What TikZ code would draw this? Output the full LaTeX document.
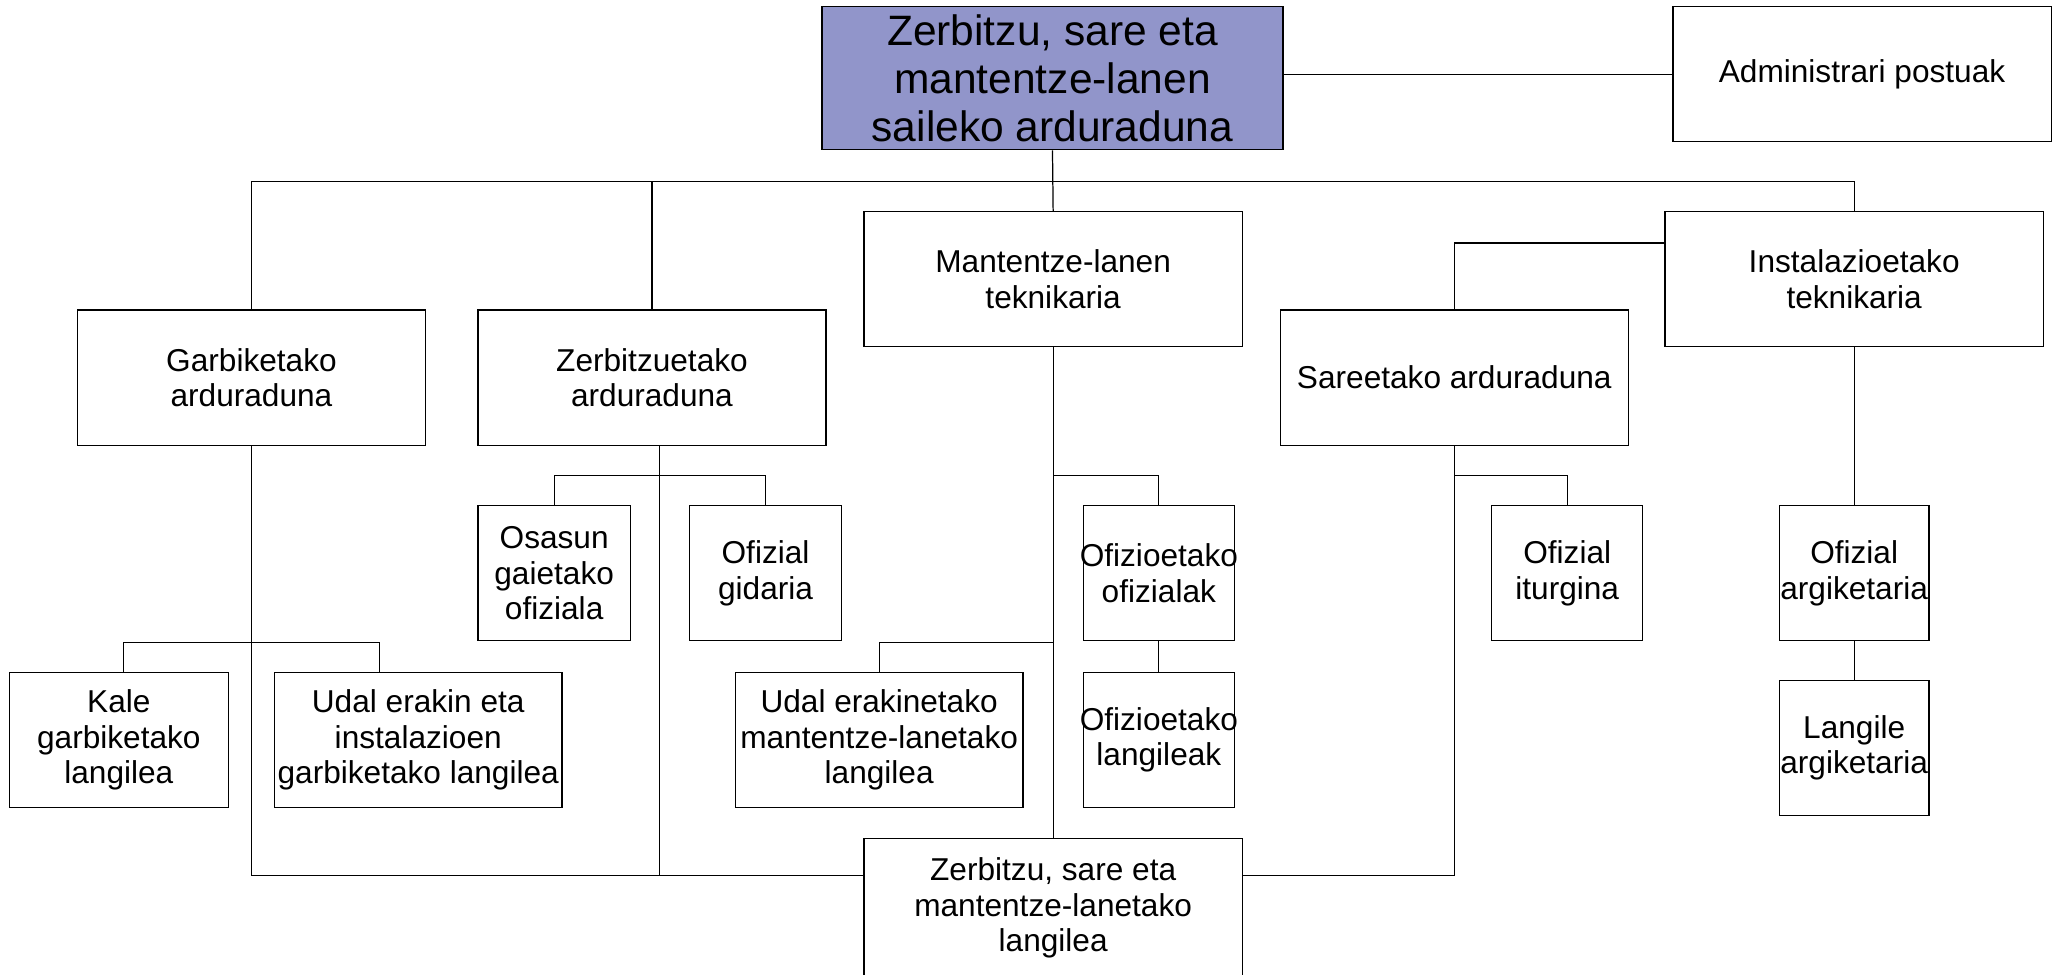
\documentclass[tikz,border=0pt]{standalone}
\usepackage{fontspec}
\setmainfont{Liberation Sans}
\definecolor{headblue}{RGB}{145,149,202}
\tikzset{
	postbox/.style={draw,inner sep=0pt,align=center,minimum width=#1,minimum height=103*0.013131cm,
		font=\fontsize{9}{10.1}\selectfont},
	postbox/.default=265*0.013131cm
}
\begin{document}
\begin{tikzpicture}[x=0.013131cm,y=-0.013131cm,line width=.35pt]
	\useasboundingbox (0,0) rectangle (1568,742);
	% goiko mailak
	\node[postbox=351*0.013131cm,minimum height=109*0.013131cm,fill=headblue,
		font=\fontsize{12.1}{13.6}\selectfont] (burua) at (801.5,59.5) {Zerbitzu, sare eta\\mantentze-lanen\\saileko arduraduna};
	\node[postbox=288*0.013131cm] (admin) at (1418,56.5) {Administrari postuak};
	\node[postbox=288*0.013131cm] (mant) at (802,212.5) {Mantentze-lanen\\teknikaria};
	\node[postbox=288*0.013131cm] (inst) at (1412,212.5) {Instalazioetako\\teknikaria};
	\node[postbox] (garb) at (191.5,287.5) {Garbiketako\\arduraduna};
	\node[postbox] (zerb) at (496.5,287.5) {Zerbitzuetako\\arduraduna};
	\node[postbox] (sare) at (1107.5,287.5) {Sareetako arduraduna};
	% ofizialak
	\node[postbox=116*0.013131cm] (osas) at (422,436.5) {Osasun\\gaietako\\ofiziala};
	\node[postbox=116*0.013131cm] (gida) at (583,436.5) {Ofizial\\gidaria};
	\node[postbox=115*0.013131cm,inner xsep=-.04cm] (ofiz) at (882.5,436.5) {Ofizioetako\\ofizialak};
	\node[postbox=115*0.013131cm] (itur) at (1193.5,436.5) {Ofizial\\iturgina};
	\node[postbox=114*0.013131cm] (oarg) at (1412,436.5) {Ofizial\\argiketaria};
	% langileak
	\node[postbox=167*0.013131cm] (kale) at (90.5,563.5) {Kale\\garbiketako\\langilea};
	\node[postbox=219*0.013131cm] (udal) at (318.5,563.5) {Udal erakin eta\\instalazioen\\garbiketako langilea};
	\node[postbox=219*0.013131cm] (udmt) at (669.5,563.5) {Udal erakinetako\\mantentze-lanetako\\langilea};
	\node[postbox=115*0.013131cm,inner xsep=-.04cm] (olan) at (882.5,563.5) {Ofizioetako\\langileak};
	\node[postbox=114*0.013131cm] (larg) at (1412,569.5) {Langile\\argiketaria};
	\node[postbox=288*0.013131cm,minimum height=106*0.013131cm,anchor=north] (lang) at (802,638) {Zerbitzu, sare eta\\mantentze-lanetako\\langilea};
	% lotura-puntuak
	\coordinate (bus) at (802,138);
	\coordinate (inj) at (1268,185);
	\coordinate (r3) at (0,362);
	\coordinate (r4) at (0,489);
	\coordinate (base) at (0,667);
	\coordinate (zc) at (502,362);
	% loturak
	\draw (burua.south) -- (mant.north);
	\draw (burua.east |- admin.west) -- (admin.west);
	\draw (garb.north) |- (bus) -| (inst.north);
	\draw (zerb.north) -- (zerb.north |- bus);
	\draw (inst.west |- inj) -| (sare.north);
	\draw (inst.south) -- (oarg.north) (oarg) -- (larg);
	\draw (mant.south) -- (lang.north);
	\draw (mant.south |- r3) -| (ofiz.north) (ofiz) -- (olan);
	\draw (mant.south |- r4) -| (udmt.north);
	\draw (sare.south |- r3) -| (itur.north);
	\draw (sare.south) |- (lang.east |- base);
	\draw (garb.south) |- (lang.west |- base);
	\draw (zerb.south -| zc) -- (zc |- base);
	\draw (osas.north) |- (zc) -| (gida.north);
	\draw ([xshift=.046cm]kale.north) |- (garb.south |- r4) -| ([xshift=-.387cm]udal.north);
\end{tikzpicture}
\end{document}
